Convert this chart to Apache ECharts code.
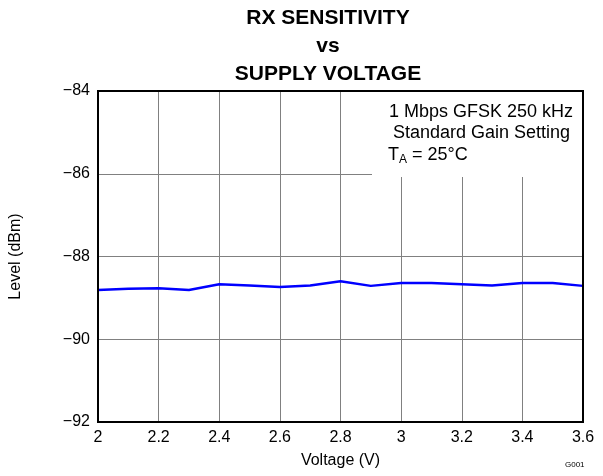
<!DOCTYPE html>
<html>
<head>
<meta charset="utf-8">
<script src="https://cdn.jsdelivr.net/npm/echarts@6/dist/echarts.min.js"></script>
<style>
  html, body { margin: 0; padding: 0; background: #fff; }
  #chart { width: 603px; height: 476px; }
</style>
</head>
<body>
<div id="chart"></div>
<script>
  // supply voltage (V)
  var voltage = [2.0, 2.1, 2.2, 2.3, 2.4, 2.5, 2.6, 2.7, 2.8, 2.9, 3.0, 3.1, 3.2, 3.3, 3.4, 3.5, 3.6];
  // rx sensitivity level (dBm)
  var level = [-88.81, -88.78, -88.77, -88.81, -88.67, -88.7, -88.74, -88.7, -88.6, -88.71, -88.64, -88.64, -88.67, -88.7, -88.64, -88.64, -88.71];

  var titleLines = ['RX SENSITIVITY', 'vs', 'SUPPLY VOLTAGE'];
  var noteLines = ['1 Mbps GFSK 250 kHz', 'Standard Gain Setting'];

  var font = 'Liberation Sans, Arial, sans-serif';
  var chart = echarts.init(document.getElementById('chart'));

  var fmtMinus = function (v) {
    return String(v).replace('-', '\u2212');
  };

  var option = {
    backgroundColor: '#fff',
    animation: false,
    //region title
    title: {
      text: titleLines.join('\n'),
      left: 323,
      textAlign: 'center',
      top: -1,
      textStyle: {
        fontFamily: font,
        fontSize: 21,
        fontWeight: 'bold',
        color: '#000',
        lineHeight: 28
      }
    },
    //endregion
    grid: {
      left: 98,
      right: 20,
      top: 91,
      bottom: 54
    },
    //region axes
    xAxis: {
      type: 'value',
      min: 2,
      max: 3.6,
      interval: 0.2,
      name: 'Voltage (V)',
      nameLocation: 'middle',
      nameGap: 31,
      nameTextStyle: { fontFamily: font, fontSize: 16, color: '#000' },
      axisLine: { show: false },
      axisTick: { show: false },
      axisLabel: {
        fontFamily: font,
        fontSize: 16,
        color: '#000',
        margin: 8,
        formatter: function (v) { return String(Math.round(v * 10) / 10); }
      },
      splitLine: { show: true, lineStyle: { color: '#808080', width: 1 } }
    },
    yAxis: {
      type: 'value',
      min: -92,
      max: -84,
      interval: 2,
      name: 'Level (dBm)',
      nameLocation: 'middle',
      nameGap: 74,
      nameTextStyle: { fontFamily: font, fontSize: 16, color: '#000' },
      axisLine: { show: false },
      axisTick: { show: false },
      axisLabel: {
        fontFamily: font,
        fontSize: 16,
        color: '#000',
        margin: 8,
        formatter: fmtMinus
      },
      splitLine: { show: true, lineStyle: { color: '#808080', width: 1 } }
    },
    //endregion
    //region graphic
    graphic: [
      {
        type: 'rect',
        shape: { x: 372, y: 92, width: 210, height: 85 },
        style: { fill: '#fff' },
        z: 50
      },
      {
        type: 'text',
        x: 389,
        y: 103,
        z: 60,
        style: {
          text: noteLines[0],
          font: '18px ' + font,
          fill: '#000'
        }
      },
      {
        type: 'text',
        x: 393,
        y: 124,
        z: 60,
        style: {
          text: noteLines[1],
          font: '18px ' + font,
          fill: '#000'
        }
      },
      {
        type: 'text',
        x: 388,
        y: 144,
        z: 60,
        style: {
          text: '{a|T}{s|A}{a| = 25\u00b0C}',
          rich: {
            a: { fontSize: 18, fontFamily: font, color: '#000' },
            s: { fontSize: 12, fontFamily: font, color: '#000', padding: [10, 0, 0, 0] }
          }
        }
      },
      {
        type: 'rect',
        shape: { x: 98, y: 91, width: 485, height: 331 },
        style: { fill: 'none', stroke: '#000', lineWidth: 2 },
        z: 70
      },
      {
        type: 'text',
        x: 565,
        y: 461,
        style: {
          text: 'G001',
          font: '8px ' + font,
          fill: '#000'
        }
      }
    ],
    //endregion
    //region series
    series: [
      {
        type: 'line',
        data: voltage.map(function (v, i) { return [v, level[i]]; }),
        showSymbol: false,
        z: 55,
        lineStyle: { color: '#0000ff', width: 2.5 }
      }
    ]
    //endregion
  };
  chart.setOption(option);
</script>
</body>
</html>
